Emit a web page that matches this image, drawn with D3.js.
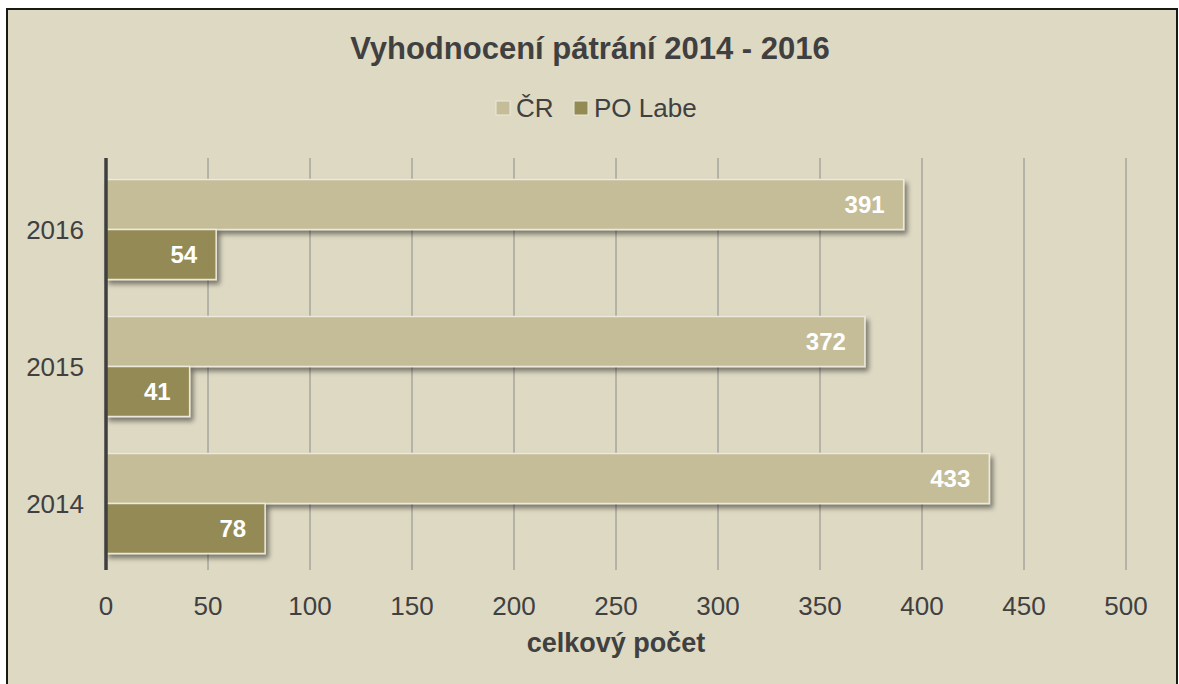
<!DOCTYPE html>
<html>
<head>
<meta charset="utf-8">
<script src="https://cdn.jsdelivr.net/npm/d3@7"></script>
<style>
  body { margin: 0; background: #fff; }
  svg { display: block; }
  svg text { font-family: "Liberation Sans", Arial, sans-serif; }
</style>
</head>
<body>
<svg width="1179" height="684"></svg>
<script>
var years = ["2016", "2015", "2014"];
var seriesNames = ["ČR", "PO Labe"];
var crValues = [391, 372, 433];
var labeValues = [54, 41, 78];
var xTicks = [0, 50, 100, 150, 200, 250, 300, 350, 400, 450, 500];
var colors = ["#C4BD97", "#948A54"];

var svg = d3.select("svg"),
    margin = {top: 161, left: 106, right: 53, bottom: 112},
    width = 1179 - margin.left - margin.right,
    height = 684 - margin.top - margin.bottom;

// frame
svg.append("rect")
    .attr("x", 7).attr("y", 9).attr("width", 1170).attr("height", 700)
    .attr("fill", "#DDD9C3").attr("stroke", "#1a1a14").attr("stroke-width", 2);

var defs = svg.append("defs");
var f = defs.append("filter").attr("id", "shadow")
    .attr("x", "-10%").attr("y", "-20%").attr("width", "130%").attr("height", "160%");
f.append("feDropShadow").attr("dx", 3).attr("dy", 4).attr("stdDeviation", 2.5)
    .attr("flood-color", "#000").attr("flood-opacity", 0.45);

var g = svg.append("g").attr("transform", "translate(" + margin.left + "," + margin.top + ")");

var x = d3.scaleLinear().domain([0, 500]).range([0, 1020]);
var y = d3.scaleBand().domain(years).range([0, 411]).paddingInner(0.27).paddingOuter(0.135);
var ySub = d3.scaleBand().domain(seriesNames).range([0, y.bandwidth()]);

// gridlines
g.append("g").selectAll("line").data(xTicks.slice(1)).join("line")
    .attr("x1", function(d) { return x(d); }).attr("x2", function(d) { return x(d); })
    .attr("y1", -3).attr("y2", 409)
    .attr("stroke", "#8c8c8c").attr("stroke-width", 1);

var data = years.map(function(yr, i) {
  return {year: yr, values: [crValues[i], labeValues[i]]};
});

var groups = g.selectAll(".grp").data(data).join("g")
    .attr("transform", function(d) { return "translate(0," + y(d.year) + ")"; });

var bars = groups.selectAll("g.bar").data(function(d) {
  return d.values.map(function(v, k) { return {name: seriesNames[k], value: v, k: k}; });
}).join("g").attr("class", "bar");

bars.append("rect")
    .attr("x", 0)
    .attr("y", function(d) { return ySub(d.name); })
    .attr("width", function(d) { return x(d.value); })
    .attr("height", ySub.bandwidth())
    .attr("fill", function(d) { return colors[d.k]; })
    .attr("stroke", "#ECE9DC").attr("stroke-width", 1.5)
    .attr("filter", "url(#shadow)");

bars.append("text")
    .attr("x", function(d) { return x(d.value) - 19; })
    .attr("y", function(d) { return ySub(d.name) + ySub.bandwidth() / 2; })
    .attr("dy", "0.36em")
    .attr("text-anchor", "end")
    .attr("fill", "#fff").attr("font-weight", "bold").attr("font-size", 24)
    .text(function(d) { return d.value; });

// y axis line
g.append("line").attr("x1", 0).attr("x2", 0).attr("y1", -3).attr("y2", 409)
    .attr("stroke", "#3f3f3f").attr("stroke-width", 3.5);

// y labels
g.selectAll(".ylab").data(years).join("text")
    .attr("x", -22)
    .attr("y", function(d) { return y(d) + y.bandwidth() / 2; })
    .attr("dy", "0.36em").attr("text-anchor", "end")
    .attr("fill", "#404040").attr("font-size", 26)
    .text(function(d) { return d; });

// x labels
g.selectAll(".xlab").data(xTicks).join("text")
    .attr("x", function(d) { return x(d); })
    .attr("y", 445).attr("dy", "0.36em").attr("text-anchor", "middle")
    .attr("fill", "#404040").attr("font-size", 26)
    .text(function(d) { return d; });

// axis title
g.append("text").attr("x", x(250)).attr("y", 481).attr("dy", "0.36em")
    .attr("text-anchor", "middle").attr("font-weight", "bold").attr("font-size", 27)
    .attr("fill", "#404040").text("celkový počet");

// title
svg.append("text").attr("x", 590).attr("y", 48).attr("dy", "0.36em")
    .attr("text-anchor", "middle").attr("font-weight", "bold").attr("font-size", 31)
    .attr("fill", "#404040").text("Vyhodnocení pátrání 2014 - 2016");

// legend
var legend = svg.append("g").attr("transform", "translate(496,108)");
var lx = [0, 78];
seriesNames.forEach(function(name, k) {
  var lg = legend.append("g").attr("transform", "translate(" + lx[k] + ",0)");
  lg.append("rect").attr("x", 0).attr("y", -7).attr("width", 14).attr("height", 14)
      .attr("fill", colors[k]).attr("stroke", "#ECE9DC").attr("stroke-width", 1);
  lg.append("text").attr("x", 20).attr("y", 0).attr("dy", "0.36em")
      .attr("font-size", 26).attr("fill", "#404040").text(name);
});
</script>
</body>
</html>
